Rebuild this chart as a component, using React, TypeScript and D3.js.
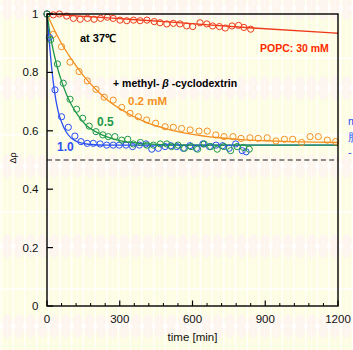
import React from 'react';
import * as d3 from 'd3';

const W = 353;
const H = 350;
const margin = { top: 14, right: 15, bottom: 44, left: 47 };

const xTicks = [0, 300, 600, 900, 1200];
const yTicks = [0, 0.2, 0.4, 0.6, 0.8, 1];
const yTickLabels = ['0', '0.2', '0.4', '0.6', '0.8', '1'];

// POPC only (30 mM)
const popcT = [0, 26, 51, 81, 109, 137, 167, 194, 221, 249, 273, 301, 329, 357, 384, 412, 442, 466, 494, 521, 548, 576, 601, 631, 659, 683, 711, 735, 763, 790, 812, 840];
const popcV = [1.0, 0.997, 1.0, 0.993, 0.985, 0.982, 0.985, 0.982, 0.985, 0.989, 0.985, 0.979, 0.977, 0.979, 0.977, 0.979, 0.974, 0.970, 0.966, 0.968, 0.966, 0.959, 0.957, 0.970, 0.966, 0.959, 0.957, 0.952, 0.959, 0.961, 0.954, 0.948];

// + MbCD 0.2 mM
const cd02T = [0, 26, 60, 95, 132, 166, 202, 236, 273, 308, 342, 377, 411, 448, 487, 521, 555, 590, 627, 661, 696, 730, 767, 800, 837, 871, 908, 944, 979, 1013, 1050, 1085, 1119, 1156, 1190];
const cd02V = [1.0, 0.930, 0.888, 0.835, 0.803, 0.771, 0.742, 0.715, 0.705, 0.680, 0.660, 0.648, 0.637, 0.626, 0.614, 0.612, 0.608, 0.603, 0.599, 0.599, 0.586, 0.580, 0.580, 0.574, 0.576, 0.574, 0.576, 0.565, 0.571, 0.571, 0.560, 0.580, 0.580, 0.568, 0.563];

// + MbCD 0.5 mM
const cd05T = [0, 15, 43, 67, 95, 122, 147, 174, 202, 230, 253, 280, 308, 333, 356, 385, 412, 439, 467, 494, 514, 540, 567, 594, 621, 648, 675, 702, 729, 757, 784, 810, 834];
const cd05V = [1.0, 0.912, 0.829, 0.763, 0.708, 0.674, 0.643, 0.616, 0.597, 0.586, 0.580, 0.580, 0.568, 0.571, 0.555, 0.560, 0.551, 0.551, 0.555, 0.555, 0.546, 0.551, 0.540, 0.546, 0.537, 0.555, 0.546, 0.537, 0.546, 0.532, 0.546, 0.543, 0.537];

// + MbCD 1.0 mM
const cd10T = [0, 10, 33, 60, 88, 115, 140, 166, 191, 219, 246, 273, 298, 326, 353, 381, 408, 432, 459, 487, 510, 535, 562, 589, 616, 643, 670, 697, 724, 751, 778, 805, 821];
const cd10V = [1.0, 0.920, 0.740, 0.648, 0.612, 0.582, 0.563, 0.557, 0.557, 0.555, 0.551, 0.551, 0.551, 0.551, 0.546, 0.551, 0.555, 0.537, 0.540, 0.546, 0.549, 0.546, 0.540, 0.549, 0.540, 0.555, 0.546, 0.551, 0.549, 0.540, 0.555, 0.532, 0.528];

// fitted curves
const popcFitT = [0, 300, 500, 850, 1200];
const popcFitV = [1, 0.984, 0.973, 0.952, 0.934];
const cd02FitT = [0, 30, 60, 100, 150, 200, 250, 300, 400, 500, 600, 700, 800, 900, 1000, 1100, 1200];
const cd02FitV = [1, 0.946, 0.899, 0.846, 0.789, 0.743, 0.705, 0.676, 0.632, 0.605, 0.588, 0.577, 0.570, 0.566, 0.563, 0.561, 0.560];
const cd05FitT = [0, 15, 30, 45, 60, 80, 100, 130, 160, 200, 250, 300, 400, 500, 700, 1200];
const cd05FitV = [1, 0.92, 0.86, 0.81, 0.77, 0.725, 0.69, 0.65, 0.62, 0.597, 0.578, 0.566, 0.556, 0.552, 0.551, 0.551];
const cd10FitT = [0, 10, 20, 30, 45, 60, 80, 100, 130, 170, 250, 1200];
const cd10FitV = [1, 0.90, 0.81, 0.74, 0.67, 0.63, 0.595, 0.575, 0.561, 0.554, 0.551, 0.551];

const RED = '#ee3a1c';
const ORANGE = '#f39024';
const GREEN = '#1e9848';
const BLUE = '#2b4ff2';
const FONT = '"Liberation Sans", Arial, Helvetica, sans-serif';

const zip = (t: number[], v: number[]) => t.map((d, i) => [d, v[i]] as [number, number]);

const series = [
  { pts: zip(popcT, popcV), fit: zip(popcFitT, popcFitV), color: RED },
  { pts: zip(cd02T, cd02V), fit: zip(cd02FitT, cd02FitV), color: ORANGE },
  { pts: zip(cd10T, cd10V), fit: zip(cd10FitT, cd10FitV), color: BLUE },
  { pts: zip(cd05T, cd05V), fit: zip(cd05FitT, cd05FitV), color: GREEN },
];

export default function App() {
  const x = d3.scaleLinear().domain([0, 1200]).range([margin.left, W - margin.right]);
  const y = d3.scaleLinear().domain([0, 1]).range([H - margin.bottom, margin.top]);
  const line = d3.line<[number, number]>()
    .x(d => x(d[0]))
    .y(d => y(d[1]))
    .curve(d3.curveMonotoneX);

  // paper texture behind the scan
  const stripes = d3.range(1.5, W, 11.7);
  const bands = [8, 88, 166, 246, 326];
  const whiteRows = [58, 135, 212, 289];
  const minorX = d3.range(0, 1201, 60).filter(d => d % 300 !== 0);

  const [x0, x1] = x.range();
  const [yb, yt] = y.range();

  return (
    <svg width={W} height={H} style={{ position: 'absolute', left: 0, top: 0, fontFamily: FONT }}>
      <rect width={W} height={H} fill="#fdfde4" />
      {bands.map(by => (
        <g key={'b' + by}>
          {stripes.map(sx => (
            <ellipse key={sx} cx={sx + 5.85} cy={by} rx={5.5} ry={12} fill="#fdf5ee" />
          ))}
          {stripes.map(sx => (
            <path key={'d' + sx} d={`M${sx},${by - 4}L${sx + 2.5},${by}L${sx},${by + 4}L${sx - 2.5},${by}Z`} fill="#ffffff" />
          ))}
        </g>
      ))}
      {stripes.map(sx => (
        <g key={'s' + sx}>
          <line x1={sx} x2={sx} y1={0} y2={H} stroke="#ffffff" strokeWidth={1.3} />
          <line x1={sx + 5.85} x2={sx + 5.85} y1={0} y2={H} stroke="#ffffff" strokeWidth={0.8} opacity={0.5} />
        </g>
      ))}
      {whiteRows.map(ry => (
        <line key={'r' + ry} x1={0} x2={W} y1={ry} y2={ry} stroke="#ffffff" strokeWidth={1.5} />
      ))}

      {/* reference level */}
      <line x1={x0} x2={x1} y1={y(0.5)} y2={y(0.5)} stroke="#666" strokeWidth={1.3} strokeDasharray="5,3.3" />

      {/* fits */}
      {series.map((s, i) => (
        <path key={'f' + i} d={line(s.fit) || ''} fill="none" stroke={s.color} strokeWidth={1.3} />
      ))}
      {/* data */}
      {series.map((s, i) => (
        <g key={'p' + i}>
          {s.pts.map((p, j) => (
            <circle key={j} cx={x(p[0])} cy={y(p[1])} r={3.1} fill="none" stroke={s.color} strokeWidth={1} />
          ))}
        </g>
      ))}

      {/* frame */}
      <rect x={x0} y={yt} width={x1 - x0} height={yb - yt} fill="none" stroke="#000" strokeWidth={1.4} />

      {/* x axis ticks */}
      {xTicks.map(t => (
        <g key={'xt' + t}>
          <line x1={x(t)} x2={x(t)} y1={yb} y2={yb - 5.5} stroke="#000" strokeWidth={1.2} />
          <text x={x(t)} y={yb + 17} textAnchor="middle" fontSize={11.5} fill="#111">{t}</text>
        </g>
      ))}
      {minorX.map(t => (
        <line key={'mx' + t} x1={x(t)} x2={x(t)} y1={yb} y2={yb - 3} stroke="#000" strokeWidth={1} />
      ))}
      <text x={(x0 + x1) / 2} y={yb + 35} textAnchor="middle" fontSize={11.5} fill="#111">time [min]</text>

      {/* y axis ticks */}
      {yTicks.map((t, i) => (
        <g key={'yt' + t}>
          <line x1={x0} x2={x0 + 6} y1={y(t)} y2={y(t)} stroke="#000" strokeWidth={1.2} />
          <text x={x0 - 8.5} y={y(t) + 4} textAnchor="end" fontSize={11.5} fill="#111">{yTickLabels[i]}</text>
        </g>
      ))}
      <text transform={`translate(16,158) rotate(-90)`} textAnchor="middle" fontSize={9} fill="#111">Δρ</text>

      {/* annotations */}
      <text x={80} y={41.5} fontSize={11} fontWeight="bold" fill="#000">at 37℃</text>
      <text x={113} y={87} fontSize={10.5} fontWeight="bold" fill="#000">
        + methyl- <tspan fontStyle="italic">β</tspan> -cyclodextrin
      </text>
      <text x={128} y={105} fontSize={11.5} fontWeight="bold" fill={ORANGE}>0.2 mM</text>
      <text x={97} y={126} fontSize={12} fontWeight="bold" fill={GREEN}>0.5</text>
      <text x={57} y={151} fontSize={12} fontWeight="bold" fill={BLUE}>1.0</text>
      <text x={260} y={52.3} fontSize={10.5} fontWeight="bold" fill="#ff2a00">POPC: 30 mM</text>

      {/* note cut by the right edge, as in the source */}
      <text x={348} y={125} fontSize={11} fill={BLUE}>m</text>
      <text x={348} y={141} fontSize={11} fill={BLUE}>脂</text>
      <text x={348} y={156} fontSize={11} fill={BLUE}>-</text>
    </svg>
  );
}
